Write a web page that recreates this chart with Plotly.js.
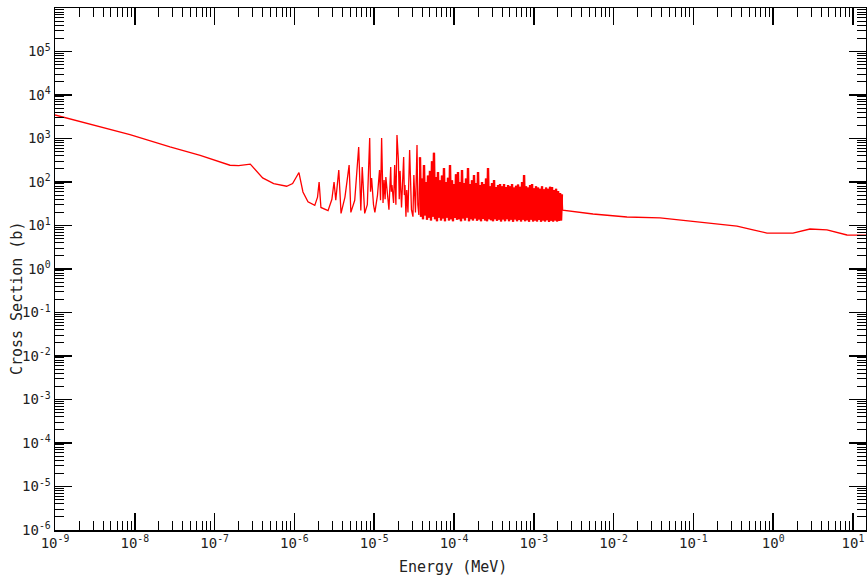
<!DOCTYPE html>
<html>
<head>
<meta charset="utf-8">
<script src="https://cdn.plot.ly/plotly-3.0.1.min.js"></script>
<style>html,body{margin:0;padding:0;background:#fff;}#chart{width:867px;height:577px;}</style>
</head>
<body>
<div id="chart"></div>
<script>
// Energies in eV, cross sections in barns
const resolvedE = [0.001,0.003,0.0087,0.0276,0.066,0.156,0.2,0.28,0.4,0.55,0.8,0.95,1.14,1.28,1.48,1.8,1.95,2.04,2.15,2.64,2.95,3.14,3.3,3.6,3.84,4.3,4.85,5.1,5.7,6.39,6.8,7.08,7.6,8.2,8.78,9.0,9.28,9.8,10.2,11.0,11.66,12.0,12.39,12.9,13.3,13.7,14.0,15.3,16.1,16.4,16.7,17.5,18.05,18.7,19.3,20.1,20.6,21.1,22.0,23.4,23.9,24.3,25.0,25.6,26.5,27.8,29.3,30.6,31.4,32.9,34.4,35.2,36.3];
const resolvedXS = [3470,2050,1220,640,410,243,238,258,124,92,80,92,165,59,35,29,45,100,26,22,40,100,38,188,19,45,245,20,38,636,22,222,19,30,1030,60,124,30,20,50,188,38,1030,33,111,40,130,23,222,60,85,33,245,30,1200,320,40,180,26,375,50,85,16,65,20,544,23,16,145,20,707,30,17.5];

const denseE = [37.5,38.6,39.7,40.9,42.1,43.3,44.6,45.9,47.2,48.6,50.0,51.5,53.0,54.5,56.1,57.8,59.5,61.2,63.0,64.8,66.7,68.7,70.7,72.8,74.9,77.1,79.4,81.7,84.1,86.5,89.1,91.7,94.4,97.1,100,102.9,105.9,109.0,112.2,115.5,118.9,122.4,126,129.7,133.5,137.4,141.4,145.5,149.8,154.2,158.7,163.3,168.1,173.1,178.1,183.4,188.7,194.3,200,205.8,211.9,218.1,224.5,231,237.8,244.8,252,259.3,266.9,274.8,282.8,291.1,299.6,308.4,317.5,326.8,336.4,346.2,356.4,366.8,377.6,388.6,400,411.7,423.8,436.2,449,462.2,475.7,489.7,504,518.8,534,549.6,565.7,582.3,599.4,617,635,653.6,672.8,692.5,712.8,733.7,755.2,777.3,800.1,823.5,847.7,872.5,898.1,924.4,951.5,979.4,1008,1036,1066,1098,1130,1163,1197,1232,1268,1305,1344,1383,1424,1466,1509,1553,1598,1645,1693,1743,1794,1847,1901,1957,2014,2073,2134,2196,2250];
const denseXS = [370,16,120,14,245,17,100,13.5,140,15,180,13,300,16,470,14,130,12.5,170,15,110,13,140,14.5,209,12.5,100,15,125,13,245,14,110,12.5,90,15,150,13.5,170,14,100,12.5,188,14.5,95,13,120,15,209,12.5,90,14,110,13,145,14.5,95,12.8,169,13.8,85,12.5,100,14.2,90,13,120,12.6,209,14,80,13.2,95,12.5,111,14,77,12.8,85,13.6,90,12.4,80,13.8,90,12.6,77,14,85,12.5,80,13.5,90,12.2,75,13.8,82,12.6,88,13.4,78,12.3,100,13.6,145,12.5,80,13.2,75,12.2,85,13.5,90,12.4,72,13.1,80,12.3,75,13.4,70,12.2,80,13,68,12.4,75,13.2,70,12.1,78,12.9,77,12.3,65,13,70,12.4,62,12.8,56,13,52];

const fastE = [2300,5520,14700,38200,83300,162000,352000,559000,836000,1770000,2890000,4720000,8400000,14800000,20000000];
const fastXS = [22.5,18.4,15.7,14.9,12.7,11.4,9.7,7.9,6.7,6.7,8.3,7.9,6.05,6.0,5.9];

// Axis tick values (MeV / barns) and their labels
const xTickVals = [1e-9,1e-8,1e-7,1e-6,1e-5,1e-4,1e-3,1e-2,1e-1,1,10];
const xTickText = ['10<sup>-9</sup>','10<sup>-8</sup>','10<sup>-7</sup>','10<sup>-6</sup>','10<sup>-5</sup>','10<sup>-4</sup>','10<sup>-3</sup>','10<sup>-2</sup>','10<sup>-1</sup>','10<sup>0</sup>','10<sup>1</sup>'];
const yTickVals = [1e-6,1e-5,1e-4,1e-3,1e-2,1e-1,1,10,100,1e3,1e4,1e5];
const yTickText = ['10<sup>-6</sup>','10<sup>-5</sup>','10<sup>-4</sup>','10<sup>-3</sup>','10<sup>-2</sup>','10<sup>-1</sup>','10<sup>0</sup>','10<sup>1</sup>','10<sup>2</sup>','10<sup>3</sup>','10<sup>4</sup>','10<sup>5</sup>'];

const xTitle = 'Energy (MeV)';
const yTitle = 'Cross Section (b)';

const eV_to_MeV = 1e-6;
const allE = resolvedE.concat(denseE, fastE).map(e => e * eV_to_MeV);
const allXS = resolvedXS.concat(denseXS, fastXS);

const traceAll = {
  x: allE, y: allXS, type: 'scatter', mode: 'lines',
  line: {color: '#ff0000', width: 1.3}, hoverinfo: 'skip'
};
// the unresolved-looking dense resonance band, drawn again slightly heavier
const traceDense = {
  x: denseE.map(e => e * eV_to_MeV), y: denseXS, type: 'scatter', mode: 'lines',
  line: {color: '#ff0000', width: 2.4}, hoverinfo: 'skip'
};

const fnt = {family: 'DejaVu Sans Mono, Liberation Mono, monospace', size: 14, color: '#222'};
const axisCommon = {
  type: 'log',
  showline: true, linecolor: '#000', linewidth: 1.5, mirror: 'ticks',
  ticks: 'inside', ticklen: 17, tickwidth: 1.5, tickcolor: '#000',
  minor: {ticks: 'inside', ticklen: 9, tickwidth: 1, tickcolor: '#000', dtick: 'D1', showgrid: false},
  showgrid: false, zeroline: false, tickfont: fnt, tickmode: 'array'
};

const layout = {
  width: 867, height: 577,
  margin: {l: 55, r: 1, t: 8, b: 47},
  paper_bgcolor: '#fff', plot_bgcolor: '#fff',
  showlegend: false,
  xaxis: Object.assign({}, axisCommon, {range: [-9, 1.163], tickvals: xTickVals, ticktext: xTickText}),
  yaxis: Object.assign({}, axisCommon, {range: [-6, 6], tickvals: yTickVals, ticktext: yTickText}),
  annotations: [
    {text: xTitle, xref: 'paper', yref: 'paper', x: 0.491, y: -0.071, xanchor: 'center', yanchor: 'middle', showarrow: false, font: {family: fnt.family, size: 15, color: '#222'}},
    {text: yTitle, xref: 'paper', yref: 'paper', x: -0.047, y: 0.444, xanchor: 'center', yanchor: 'middle', textangle: -90, showarrow: false, font: {family: fnt.family, size: 15, color: '#222'}}
  ]
};

Plotly.newPlot('chart', [traceAll, traceDense], layout, {displayModeBar: false, staticPlot: true});
</script>
</body>
</html>
